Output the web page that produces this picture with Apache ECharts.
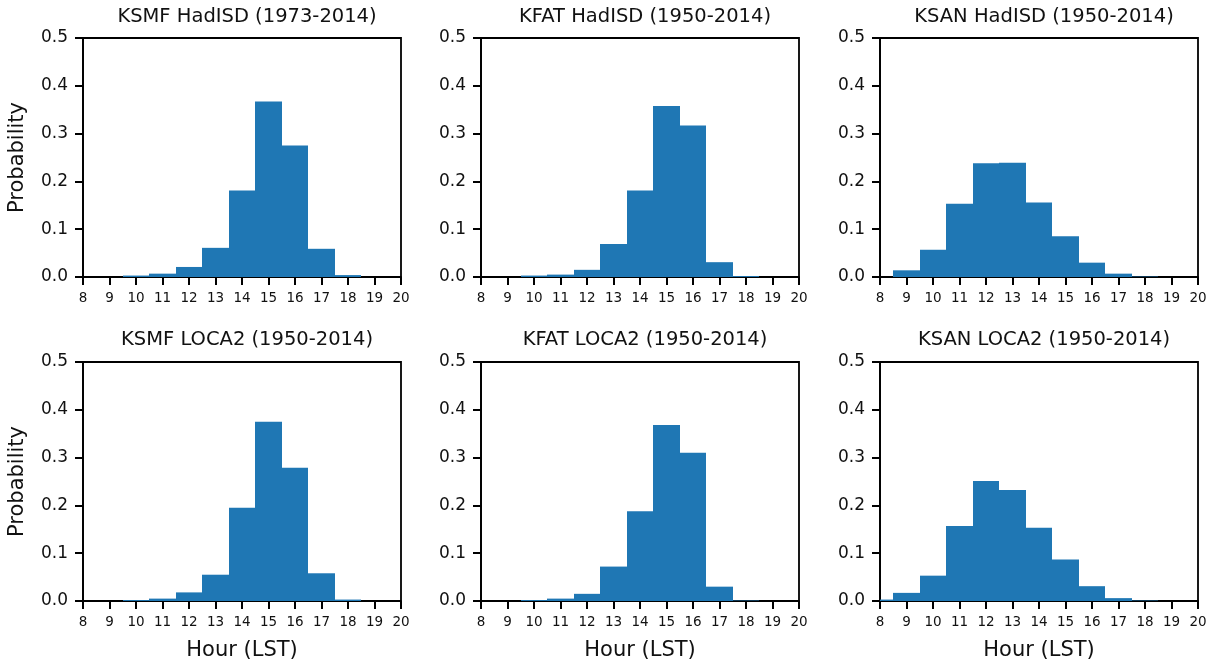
<!DOCTYPE html>
<html>
<head>
<meta charset="utf-8">
<script src="https://cdn.jsdelivr.net/npm/echarts@6/dist/echarts.min.js"></script>
<style>
html, body { margin: 0; padding: 0; background: #fff; }
#main { width: 1215px; height: 668px; }
</style>
</head>
<body>
<div id="main"></div>
<script>
// bin centres (hours), each bin is 1 hour wide
var hours = [8, 9, 10, 11, 12, 13, 14, 15, 16, 17, 18, 19];

var ksmfHad  = [0, 0, 0.003, 0.007, 0.021, 0.061, 0.181, 0.367, 0.275, 0.059, 0.004, 0];
var kfatHad  = [0, 0, 0.003, 0.005, 0.015, 0.069, 0.181, 0.358, 0.317, 0.031, 0.002, 0];
var ksanHad  = [0, 0.014, 0.057, 0.153, 0.238, 0.239, 0.156, 0.085, 0.030, 0.007, 0.001, 0];
var ksmfLoca = [0, 0, 0.002, 0.005, 0.018, 0.055, 0.195, 0.375, 0.279, 0.058, 0.003, 0];
var kfatLoca = [0, 0, 0.002, 0.005, 0.015, 0.072, 0.188, 0.368, 0.310, 0.030, 0.001, 0];
var ksanLoca = [0.003, 0.017, 0.053, 0.157, 0.251, 0.232, 0.153, 0.087, 0.031, 0.006, 0.001, 0];

var titles = [
  'KSMF HadISD (1973-2014)', 'KFAT HadISD (1950-2014)', 'KSAN HadISD (1950-2014)',
  'KSMF LOCA2 (1950-2014)', 'KFAT LOCA2 (1950-2014)', 'KSAN LOCA2 (1950-2014)'
];
var panels = [ksmfHad, kfatHad, ksanHad, ksmfLoca, kfatLoca, ksanLoca];

var lefts = [83, 481, 880];
var tops = [38, 362];
var W = 318, H = 239;
var font = 'DejaVu Sans';
var barColor = '#1f77b4';
var lw = 1.8;

var grid = [], xAxis = [], yAxis = [], series = [], title = [];

panels.forEach(function (vals, i) {
  var col = i % 3, row = Math.floor(i / 3);
  grid.push({
    left: lefts[col], top: tops[row], width: W, height: H,
    show: true, borderColor: '#000', borderWidth: lw, backgroundColor: 'transparent'
  });
  title.push({
    text: titles[i],
    left: lefts[col] + W / 2, top: row === 0 ? 2 : 325, textAlign: 'center',
    textStyle: { fontFamily: font, fontSize: 19.5, fontWeight: 'normal', color: '#111' }
  });
  xAxis.push({
    type: 'value', gridIndex: i, min: 8, max: 20, interval: 1,
    name: row === 1 ? 'Hour (LST)' : '', nameLocation: 'middle', nameGap: 39,
    nameTextStyle: { fontFamily: font, fontSize: 21, color: '#111' },
    axisLine: { show: true, onZero: false, lineStyle: { color: '#000', width: lw } },
    axisTick: { show: true, inside: false, length: 8, lineStyle: { color: '#000', width: 2 } },
    axisLabel: { fontFamily: font, fontSize: 13.5, color: '#111', margin: 14 },
    splitLine: { show: false }
  });
  yAxis.push({
    type: 'value', gridIndex: i, min: 0, max: 0.5, interval: 0.1,
    name: col === 0 ? 'Probability' : '', nameLocation: 'middle', nameGap: 55,
    nameTextStyle: { fontFamily: font, fontSize: 21, color: '#111' },
    axisLine: { show: true, lineStyle: { color: '#000', width: lw } },
    axisTick: { show: true, inside: false, length: 8, lineStyle: { color: '#000', width: 2 } },
    axisLabel: {
      fontFamily: font, fontSize: 17, color: '#111', margin: 15,
      formatter: function (v) { return v.toFixed(1); }
    },
    splitLine: { show: false }
  });
  series.push({
    type: 'custom', xAxisIndex: i, yAxisIndex: i, clip: true,
    data: hours.map(function (h, k) { return [h, vals[k]]; }),
    renderItem: function (params, api) {
      var x = api.value(0), y = api.value(1);
      if (!y) return null;
      var p0 = api.coord([x - 0.5, y]);
      var p1 = api.coord([x + 0.5, 0]);
      var x0 = Math.round(p0[0]), x1 = Math.round(p1[0]);
      return {
        type: 'rect',
        shape: { x: x0, y: p0[1], width: x1 - x0, height: p1[1] - p0[1] },
        style: { fill: barColor }
      };
    }
  });
});

var myChart = echarts.init(document.getElementById('main'), null, { renderer: 'canvas' });
myChart.setOption({
  backgroundColor: '#fff',
  animation: false,
  title: title,
  grid: grid,
  xAxis: xAxis,
  yAxis: yAxis,
  series: series
});
</script>
</body>
</html>
